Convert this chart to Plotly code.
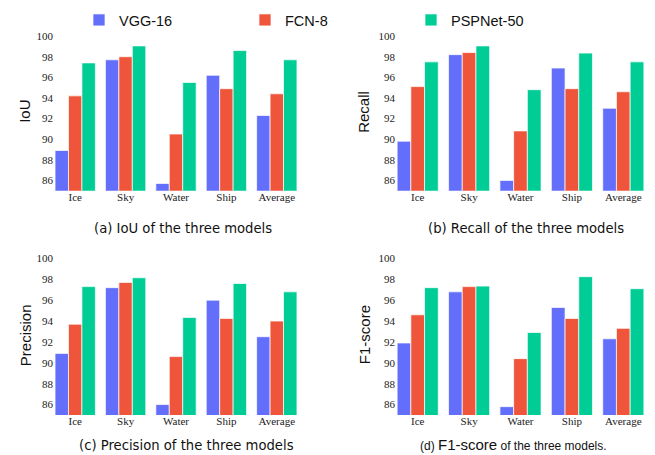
import plotly.graph_objects as go

categories = ["Ice", "Sky", "Water", "Ship", "Average"]
models = ["VGG-16", "FCN-8", "PSPNet-50"]
colors = ["#636EFA", "#EF553B", "#00CC96"]

iou_vgg = [88.9, 97.7, 85.7, 96.2, 92.3]
iou_fcn = [94.2, 98.0, 90.5, 94.9, 94.4]
iou_psp = [97.4, 99.05, 95.5, 98.6, 97.7]

recall_vgg = [89.8, 98.2, 86.0, 96.9, 93.0]
recall_fcn = [95.1, 98.4, 90.8, 94.9, 94.6]
recall_psp = [97.5, 99.05, 94.8, 98.35, 97.5]

precision_vgg = [90.9, 97.2, 86.0, 96.0, 92.5]
precision_fcn = [93.7, 97.7, 90.6, 94.25, 94.0]
precision_psp = [97.3, 98.15, 94.35, 97.6, 96.8]

f1_vgg = [91.9, 96.8, 85.8, 95.3, 92.3]
f1_fcn = [94.6, 97.3, 90.4, 94.25, 93.3]
f1_psp = [97.2, 97.35, 92.9, 98.25, 97.1]

ytick_vals = [86, 88, 90, 92, 94, 96, 98, 100]

panels = [
    ("IoU", [iou_vgg, iou_fcn, iou_psp], "(a) IoU of the three models"),
    ("Recall", [recall_vgg, recall_fcn, recall_psp], "(b) Recall of the three models"),
    ("Precision", [precision_vgg, precision_fcn, precision_psp], "(c) Precision of the three models"),
    ("F1-score", [f1_vgg, f1_fcn, f1_psp],
     "<span style='font-size:12px'>(d) </span>F1-score<span style='font-size:12px'> of the three models.</span>"),
]

# page has an 8px body margin; figure is sized to fit inside the window
OFF = 8
W, H = 647, 447


def fx(px):
    return (px - OFF) / W


def fy(py):
    return 1 - (py - OFF) / H


xpix = [(50, 302), (392, 649), (50, 302), (392, 649)]
ypix = [(33, 190.7), (33, 190.7), (255.3, 415), (255.3, 415)]
ytitle_x = [25, 364, 25, 364]
caption_pos = [(182.5, 228), (526, 228), (186.5, 445), (513.5, 444)]
caption_font = ["DejaVu Sans", "DejaVu Sans", "DejaVu Sans", "Liberation Sans"]
caption_size = [13.2, 13.2, 13.2, 15]

fig = go.Figure()
annotations = []
for i, (name, series, caption) in enumerate(panels):
    xa = "x" if i == 0 else f"x{i+1}"
    ya = "y" if i == 0 else f"y{i+1}"
    for j, vals in enumerate(series):
        fig.add_trace(go.Bar(
            x=categories, y=vals, name=models[j],
            marker=dict(color=colors[j], line=dict(color="rgba(255,255,255,0.7)", width=1)),
            xaxis=xa, yaxis=ya, showlegend=(i == 0), legendgroup=models[j],
        ))
    xkey = "xaxis" if i == 0 else f"xaxis{i+1}"
    ykey = "yaxis" if i == 0 else f"yaxis{i+1}"
    x0, x1 = xpix[i]
    y0, y1 = ypix[i]
    fig.layout[xkey] = dict(domain=[fx(x0), fx(x1)], anchor=ya, showgrid=False, zeroline=False,
                            showline=False, ticks="", automargin=False, ticklabelstandoff=-2,
                            tickfont=dict(family="Liberation Serif", size=11, color="#222"))
    fig.layout[ykey] = dict(domain=[fy(y1), fy(y0)], anchor=xa, range=[85, 100.3], tickvals=ytick_vals,
                            showgrid=False, zeroline=False, showline=False, ticks="", automargin=False,
                            ticklabelstandoff=-4,
                            tickfont=dict(family="Liberation Serif", size=11, color="#222"))
    annotations.append(dict(text=name, textangle=-90, x=fx(ytitle_x[i]), y=fy((y0 + y1) / 2),
                            xref="paper", yref="paper", showarrow=False, xanchor="center", yanchor="middle",
                            font=dict(family="Liberation Sans", size=15, color="#111")))
    cx, cy = caption_pos[i]
    annotations.append(dict(text=caption, x=fx(cx), y=fy(cy), xref="paper", yref="paper",
                            showarrow=False, xanchor="center", yanchor="middle",
                            font=dict(family=caption_font[i], size=caption_size[i], color="#111")))

fig.update_layout(
    width=W, height=H, margin=dict(l=0, r=0, t=0, b=0, autoexpand=False),
    paper_bgcolor="white", plot_bgcolor="white",
    barmode="group", bargap=0.2, bargroupgap=0,
    annotations=annotations,
    legend=dict(orientation="h", x=fx(79), y=fy(20), xanchor="left", yanchor="middle",
                entrywidth=121, entrywidthmode="pixels",
                font=dict(family="Liberation Sans", size=14.5, color="#111"), bgcolor="rgba(0,0,0,0)"),
)

fig.write_html("out.html")
